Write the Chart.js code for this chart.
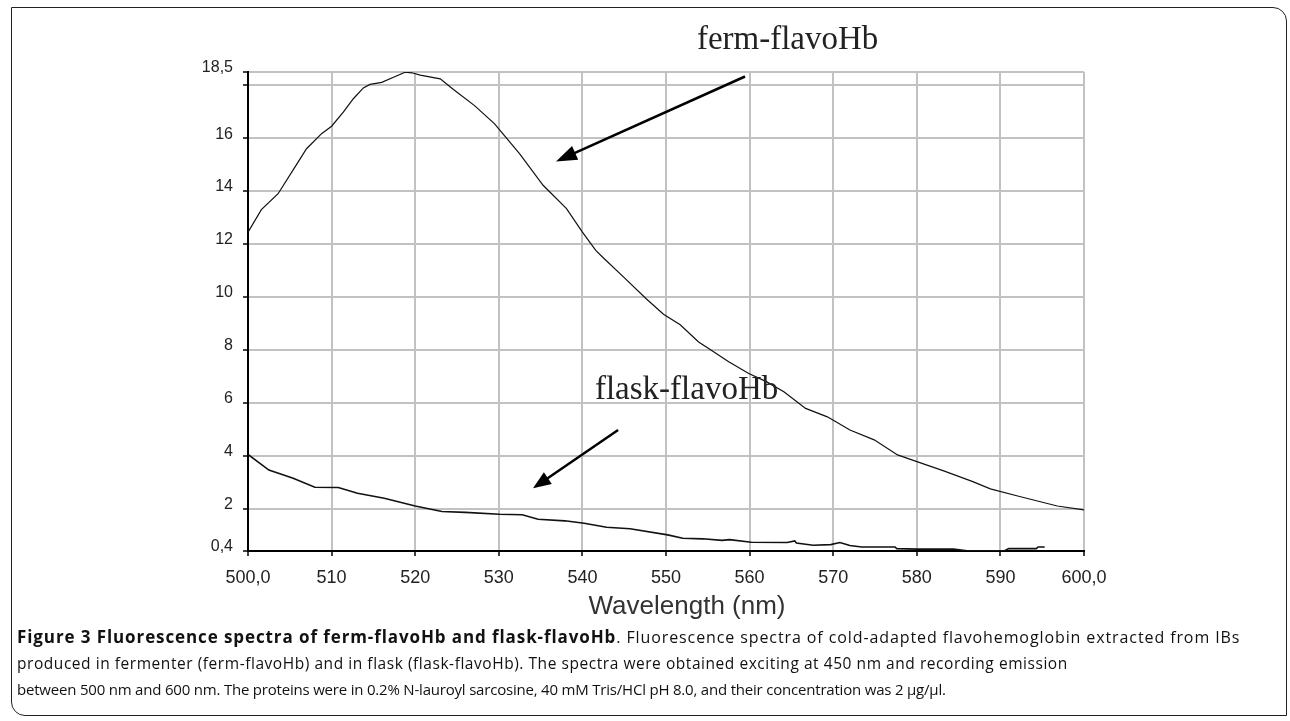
<!DOCTYPE html>
<html>
<head>
<meta charset="utf-8">
<script src="https://cdn.jsdelivr.net/npm/chart.js@4/dist/chart.umd.min.js"></script>
<style>
  html, body { margin: 0; padding: 0; background: #fff; }
  #wrap { position: relative; width: 1290px; height: 721px; overflow: hidden; }
  #frame { position: absolute; left: 11px; top: 7px; width: 1276px; height: 709px; box-sizing: border-box;
           border: 1.5px solid #222; border-radius: 0 14px 0 14px; pointer-events: none; }
  canvas { position: absolute; left: 0; top: 0; }
  #caption { position: absolute; left: 17px; top: 624px; font-family: "Open Sans", sans-serif; font-size: 15px;
             line-height: 26px; color: #111; }
  #caption .ln { display: block; white-space: nowrap; height: 26px; }
  #caption .l1 { font-size: 16px; letter-spacing: 0.9px; }
  #caption .l1 b { font-weight: 700; font-size: 17px; letter-spacing: 0.9px; }
  #caption .l2 { font-size: 15.5px; letter-spacing: 0.55px; }
  #caption .l3 { letter-spacing: -0.2px; }
</style>
</head>
<body>
<div id="wrap">
  <canvas id="c" width="1290" height="721"></canvas>
  <div id="frame"></div>
  <div id="caption">
    <span class="ln l1"><b>Figure 3 Fluorescence spectra of ferm-flavoHb and flask-flavoHb</b>. Fluorescence spectra of cold-adapted flavohemoglobin extracted from IBs</span>
    <span class="ln l2">produced in fermenter (ferm-flavoHb) and in flask (flask-flavoHb). The spectra were obtained exciting at 450 nm and recording emission</span>
    <span class="ln l3">between 500 nm and 600 nm. The proteins were in 0.2% N-lauroyl sarcosine, 40 mM Tris/HCl pH 8.0, and their concentration was 2 µg/µl.</span>
  </div>
</div>
<script>
// ---- data ----
const fermNm  = [500, 501.6, 503.6, 505.8, 507.0, 508.8, 510, 511.4, 512.6, 513.8, 514.6, 516, 517.4, 518.8, 519.6, 520.6, 523, 524.5, 527.1, 529.5, 532.5, 535.3, 538.1, 540, 541.6, 542.4, 545, 547.6, 549.7, 551.7, 553.9, 555.1, 557.5, 559.9, 562, 564.1, 566.7, 569.3, 572, 574.9, 577.7, 580.1, 583.3, 586.7, 588.8, 592.3, 596.8, 600];
const fermVal = [12.45, 13.3, 13.9, 15.0, 15.6, 16.17, 16.45, 16.98, 17.49, 17.9, 18.03, 18.11, 18.3, 18.49, 18.47, 18.38, 18.24, 17.86, 17.23, 16.54, 15.41, 14.22, 13.34, 12.45, 11.76, 11.51, 10.73, 9.94, 9.35, 8.95, 8.3, 8.05, 7.55, 7.11, 6.8, 6.42, 5.79, 5.47, 4.97, 4.6, 4.03, 3.77, 3.42, 3.02, 2.75, 2.46, 2.1, 1.95];

const flaskNm  = [500, 502.5, 505.4, 508, 510.8, 513.1, 516.3, 520, 523.2, 526, 530.1, 532.8, 534.7, 537.9, 540.2, 542.9, 545.7, 550.2, 552, 554.4, 556.7, 557.6, 560.2, 564.5, 565.4, 565.6, 567.6, 569.7, 570.8, 572, 573.4, 577.4, 577.6, 580.1, 584.4, 586, 590.5, 591, 594.3, 594.5, 595.3];
const flaskVal = [4.05, 3.46, 3.15, 2.81, 2.8, 2.58, 2.39, 2.1, 1.89, 1.86, 1.79, 1.77, 1.6, 1.54, 1.45, 1.3, 1.24, 1.01, 0.88, 0.86, 0.8, 0.83, 0.73, 0.72, 0.78, 0.7, 0.62, 0.64, 0.72, 0.61, 0.55, 0.55, 0.49, 0.47, 0.47, 0.41, 0.41, 0.49, 0.49, 0.55, 0.55];

const xTickValues = [500, 510, 520, 530, 540, 550, 560, 570, 580, 590, 600];
const xTickLabels = ["500,0", "510", "520", "530", "540", "550", "560", "570", "580", "590", "600,0"];
const yTickValues = [0.4, 2, 4, 6, 8, 10, 12, 14, 16, 18, 18.5];
const yTickLabels = ["0,4", "2", "4", "6", "8", "10", "12", "14", "16", "", "18,5"];
const xTitle = "Wavelength (nm)";

// annotation texts and arrows, in data coordinates
const labelTexts = ["ferm-flavoHb", "flask-flavoHb"];
const labelNm    = [553.7, 541.5];
const labelVal   = [19.37, 6.13];
const arrowFromNm  = [559.45, 544.27];
const arrowFromVal = [18.33, 4.97];
const arrowToNm    = [536.84, 534.09];
const arrowToVal   = [15.12, 2.77];

const toPts = (xs, ys) => xs.map((v, i) => ({ x: v, y: ys[i] }));

const annotPlugin = {
  id: 'annot',
  afterDraw(chart) {
    const { ctx, chartArea } = chart;
    const x = chart.scales.x, y = chart.scales.y;
    ctx.save();
    // serif labels
    ctx.font = '33px "Liberation Serif", serif';
    ctx.fillStyle = '#222';
    ctx.textAlign = 'left';
    ctx.textBaseline = 'alphabetic';
    labelTexts.forEach((t, i) => ctx.fillText(t, x.getPixelForValue(labelNm[i]), y.getPixelForValue(labelVal[i])));
    // arrows
    ctx.strokeStyle = '#000';
    ctx.fillStyle = '#000';
    ctx.lineWidth = 2.5;
    arrowFromNm.forEach((_, i) => {
      const x0 = x.getPixelForValue(arrowFromNm[i]), y0 = y.getPixelForValue(arrowFromVal[i]);
      const x1 = x.getPixelForValue(arrowToNm[i]), y1 = y.getPixelForValue(arrowToVal[i]);
      const ang = Math.atan2(y1 - y0, x1 - x0);
      const hl = i === 0 ? 21 : 18, hw = i === 0 ? 7.5 : 7;
      const bx = x1 - hl * Math.cos(ang), by = y1 - hl * Math.sin(ang);
      ctx.beginPath(); ctx.moveTo(x0, y0); ctx.lineTo(bx + 2 * Math.cos(ang), by + 2 * Math.sin(ang)); ctx.stroke();
      ctx.beginPath();
      ctx.moveTo(x1, y1);
      ctx.lineTo(bx + hw * Math.sin(ang), by - hw * Math.cos(ang));
      ctx.lineTo(bx - hw * Math.sin(ang), by + hw * Math.cos(ang));
      ctx.closePath(); ctx.fill();
    });
    // x axis title
    ctx.font = '26px "Liberation Sans", Arial, sans-serif';
    ctx.fillStyle = '#333';
    ctx.textAlign = 'center';
    ctx.fillText(xTitle, (chartArea.left + chartArea.right) / 2 + 21, chartArea.bottom + 63);
    ctx.restore();
  }
};

new Chart(document.getElementById('c'), {
  type: 'line',
  data: {
    datasets: [
      { label: 'ferm-flavoHb', data: toPts(fermNm, fermVal), borderColor: '#111', borderWidth: 1.2, pointRadius: 0, tension: 0, fill: false },
      { label: 'flask-flavoHb', data: toPts(flaskNm, flaskVal), borderColor: '#111', borderWidth: 1.6, pointRadius: 0, tension: 0, fill: false }
    ]
  },
  options: {
    responsive: false,
    animation: false,
    devicePixelRatio: 1,
    layout: { padding: { left: 0, right: 206, top: 72, bottom: 101 } },
    plugins: { legend: { display: false }, tooltip: { enabled: false } },
    scales: {
      x: {
        type: 'linear', min: 500, max: 600,
        afterBuildTicks: s => { s.ticks = xTickValues.map(v => ({ value: v })); },
        afterFit: s => { s.height = 69; },
        ticks: { autoSkip: false, maxRotation: 0, padding: 11, color: '#222',
                 font: { family: '"Liberation Sans", Arial, sans-serif', size: 18 },
                 callback: (v, i) => xTickLabels[i] },
        grid: { color: '#c2c2c2', lineWidth: 2, tickColor: '#000', tickWidth: 1.5, tickLength: 5 },
        border: { display: true, color: '#000', width: 2 }
      },
      y: {
        type: 'linear', min: 0.4, max: 18.5,
        afterBuildTicks: s => { s.ticks = yTickValues.map(v => ({ value: v })); },
        afterFit: s => { s.width = 248; },
        ticks: { autoSkip: false, padding: 10, labelOffset: -4, color: '#222',
                 font: { family: '"Liberation Sans", Arial, sans-serif', size: 16 },
                 callback: (v, i) => yTickLabels[i] },
        grid: { color: '#c2c2c2', lineWidth: 2, tickColor: '#000', tickWidth: 1.5, tickLength: 5 },
        border: { display: true, color: '#000', width: 2 }
      }
    }
  },
  plugins: [annotPlugin]
});
</script>
</body>
</html>
